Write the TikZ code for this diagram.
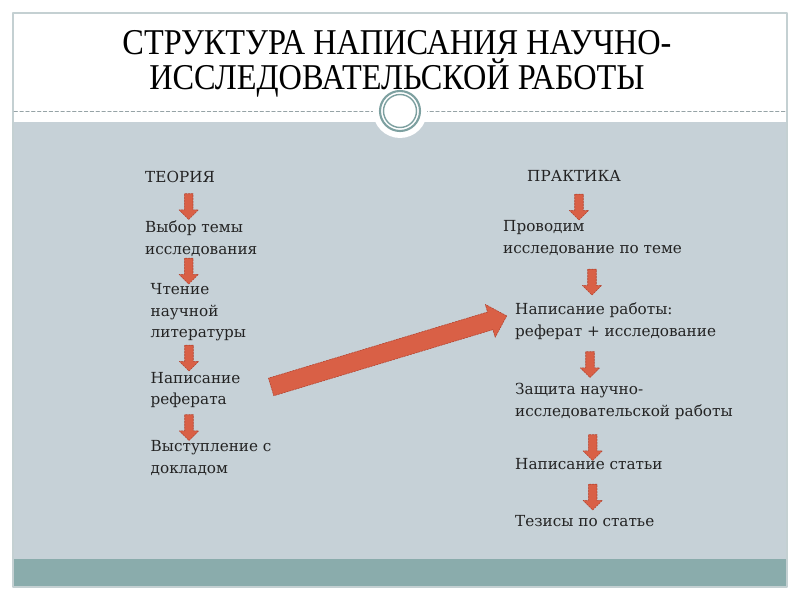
\documentclass[tikz,border=0pt]{standalone}
\usepackage{fontspec}
\setmainfont{Liberation Serif}
\newfontfamily\entryfont{DejaVu Serif}
\usetikzlibrary{shapes.arrows}
\definecolor{slidegray}{RGB}{198,209,215}
\definecolor{slideteal}{RGB}{138,172,172}
\definecolor{framegray}{RGB}{196,208,210}
\definecolor{dashgray}{RGB}{150,163,166}
\definecolor{ringgray}{RGB}{125,160,160}
\definecolor{arrowred}{RGB}{217,96,70}
\definecolor{arrowedge}{RGB}{180,68,48}
\definecolor{textdark}{RGB}{35,35,35}
\tikzset{
  entry/.style={anchor=north west,inner sep=0pt,align=left,text=textdark,font=\entryfont\fontsize{13}{18}\selectfont},
  flowarrow/.style={single arrow,fill=arrowred,draw=arrowedge,dash pattern=on 1.5pt off 1pt,line width=0.5pt,
    inner xsep=0pt,inner ysep=3.4pt,single arrow head extend=4.6pt,minimum height=22pt,sloped,allow upside down},
  jumparrow/.style={flowarrow,inner ysep=7.6pt,single arrow head extend=6.8pt,minimum height=210pt}
}
\begin{document}
\begin{tikzpicture}[x=0.03cm,y=-0.03cm,line cap=round,line join=round]
    \useasboundingbox (0,0) rectangle (800,600);
    % slide
    \fill[white] (0,0) rectangle (800,600);
    \fill[slidegray] (14,122) rectangle (786,559);
    \fill[slideteal] (14,559) rectangle (786,587);
    \draw[framegray,line width=1.3pt] (13,13) rectangle (787,587);
    \draw[dashgray,line width=0.6pt,dash pattern=on 3pt off 2pt] (14,111.5) -- (786,111.5);
    \fill[white] (400,111) circle (27);
    \draw[ringgray,line width=1.8pt] (400,111) circle (20);
    \draw[ringgray,line width=1.2pt] (400,111) circle (16.5);
    \node (title) at (397,64) [align=center,inner sep=0pt,text=black,font=\fontsize{31}{30}\selectfont,xscale=0.89,transform shape]
        {СТРУКТУРА НАПИСАНИЯ НАУЧНО-\\ИССЛЕДОВАТЕЛЬСКОЙ РАБОТЫ};

    % theory
    \node (theory) at (145,168) [entry] {\strut ТЕОРИЯ};
    \node (topic) at (145,218) [entry] {\strut Выбор темы\\исследования};
    \node (reading) at (150.5,280) [entry] {\strut Чтение\\научной\\литературы};
    \node (essay) at (150.5,368.5) [entry] {\strut Написание\\реферата};
    \node (talk) at (150.5,437) [entry] {\strut Выступление с\\докладом};
    \coordinate (l1a) at (188.7,192); \coordinate (l1b) at (188.7,217);
    \coordinate (l2a) at (188.7,257); \coordinate (l2b) at (188.7,281);
    \coordinate (l3a) at (189,343);   \coordinate (l3b) at (189,369);
    \coordinate (l4a) at (189,413);   \coordinate (l4b) at (189,438);
    \foreach \a/\b in {l1a/l1b,l2a/l2b,l3a/l3b,l4a/l4b} {\path (\a) -- (\b) node[midway,flowarrow] {};}

    % practice
    \node (practice) at (527,167) [entry] {\strut ПРАКТИКА};
    \node (study) at (503,217) [entry] {\strut Проводим\\исследование по теме};
    \node (writing) at (515,300) [entry] {\strut Написание работы:\\реферат + исследование};
    \node (defence) at (515,380) [entry] {\strut Защита научно-\\исследовательской работы};
    \node (article) at (515,455) [entry] {\strut Написание статьи};
    \node (theses) at (515,511.5) [entry] {\strut Тезисы по статье};
    \coordinate (r1a) at (579,192);   \coordinate (r1b) at (579,218);
    \coordinate (r2a) at (592,267);   \coordinate (r2b) at (592,293);
    \coordinate (r3a) at (590,350);   \coordinate (r3b) at (590,375);
    \coordinate (r4a) at (592.7,432); \coordinate (r4b) at (592.7,459);
    \coordinate (r5a) at (592.7,482); \coordinate (r5b) at (592.7,508);
    \foreach \a/\b in {r1a/r1b,r2a/r2b,r3a/r3b,r4a/r4b,r5a/r5b} {\path (\a) -- (\b) node[midway,flowarrow] {};}

    % essay -> writing
    \coordinate (jumpa) at (266,388.5);
    \coordinate (jumpb) at (503,317);
    \path (jumpa) -- (jumpb) node[midway,jumparrow] {};
\end{tikzpicture}
\end{document}
